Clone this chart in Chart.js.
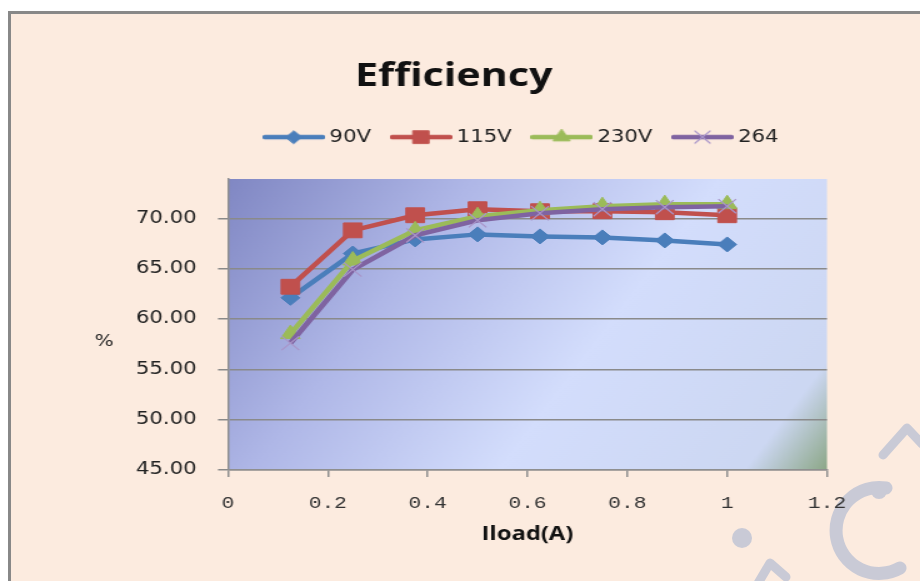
<!DOCTYPE html>
<html>
<head>
<meta charset="utf-8">
<title>Efficiency</title>
<script src="https://cdn.jsdelivr.net/npm/chart.js@4/dist/chart.umd.min.js"></script>
<style>
html,body{margin:0;padding:0;background:#fff;overflow:hidden}
#wrap{position:relative;width:920px;height:581px;overflow:hidden}
#frame{position:absolute;left:8px;top:11px;width:940px;height:600px;background:#fcebdf;border-left:3px solid #888;border-top:3px solid #888}
#mark{position:absolute;left:0;top:0}
/* 원본 그림이 가로로 약 1.25배 늘어나 있어서 캔버스도 같이 늘린다 */
#c{position:absolute;left:0;top:0;transform:scaleX(1.25);transform-origin:0 0}
</style>
</head>
<body>
<div id="wrap">
  <div id="frame"></div>
  <svg id="mark" width="920" height="581">
    <g fill="none" stroke="#c9cad6" stroke-linecap="round" stroke-linejoin="round">
      <polyline points="883,455 907,428 922,444" stroke-width="9"/>
      <path d="M 886 488 A 43 43 0 1 0 900 568" stroke-width="13"/>
      <polyline points="757,585 770,563 786,577" stroke-width="9"/>
    </g>
    <circle cx="879" cy="491" r="8" fill="#c9cad6"/>
    <circle cx="742" cy="538" r="10" fill="#c9cad6"/>
  </svg>
  <canvas id="c" width="736" height="581"></canvas>
</div>
<script>
/* ---------- 데이터 ---------- */
const LOAD    = [0.125, 0.25, 0.375, 0.5, 0.625, 0.75, 0.875, 1.0];
const V90     = [62.1, 66.5, 67.9, 68.4, 68.2, 68.1, 67.8, 67.4];
const V115    = [63.2, 68.8, 70.3, 70.9, 70.7, 70.7, 70.6, 70.3];
const V230    = [58.5, 65.8, 68.8, 70.2, 70.8, 71.2, 71.4, 71.4];
const V264    = [57.6, 64.9, 68.3, 69.8, 70.5, 70.9, 71.1, 71.2];
const SERIES  = ['90V', '115V', '230V', '264'];
const X_TICKS = [0, 0.2, 0.4, 0.6, 0.8, 1, 1.2];
const Y_TICKS = [45, 50, 55, 60, 65, 70];

const pts = arr => LOAD.map((x, i) => ({x, y: arr[i]}));

/* ---------- 시리즈 ---------- */
const datasets = [
  {label:SERIES[0], data:pts(V90),  borderColor:'#4a7ebb', pointBackgroundColor:'#4a7ebb', pointBorderColor:'#4a7ebb',
   pointStyle:'rectRot', pointRadius:7.5, pointBorderWidth:1},
  {label:SERIES[1], data:pts(V115), borderColor:'#c0504d', pointBackgroundColor:'#c0504d', pointBorderColor:'#c0504d',
   pointStyle:'rect', pointRadius:10.5, pointBorderWidth:1},
  {label:SERIES[2], data:pts(V230), borderColor:'#9bbb59', pointBackgroundColor:'#9bbb59', pointBorderColor:'#9bbb59',
   pointStyle:'triangle', pointRadius:9, pointBorderWidth:1},
  {label:SERIES[3], data:pts(V264), borderColor:'#7f63a1', pointBackgroundColor:'#a995c9', pointBorderColor:'#a995c9',
   pointStyle:'crossRot', pointRadius:10, pointBorderWidth:1.2}
];
// 뒤쪽 시리즈가 위에 그려지도록
datasets.forEach((d, i) => {
  d.borderWidth = 4.5; d.tension = 0; d.fill = false; d.order = datasets.length - i;
  d.pointHoverRadius = d.pointRadius;
});

// 범례 아이콘: 선 + 마커
function legendIcon(ds){
  const c = document.createElement('canvas');
  c.width = 50; c.height = 24;
  const g = c.getContext('2d');
  g.strokeStyle = ds.borderColor; g.lineWidth = ds.borderWidth; g.lineCap = 'round';
  g.beginPath(); g.moveTo(2, 12); g.lineTo(48, 12); g.stroke();
  g.fillStyle = ds.pointBackgroundColor; g.strokeStyle = ds.pointBorderColor; g.lineWidth = ds.pointBorderWidth;
  Chart.helpers.drawPoint(g, {pointStyle:ds.pointStyle, radius:ds.pointRadius*0.85, rotation:0, borderWidth:ds.pointBorderWidth}, 25, 12);
  return c;
}

/* ---------- 플러그인 ---------- */
const plotBg = {
  id:'plotBg',
  beforeDraw(chart){
    const {ctx, chartArea:a} = chart;
    const g = ctx.createLinearGradient(a.left, a.top, a.right, a.bottom);
    g.addColorStop(0,    '#8087c3');
    g.addColorStop(0.3,  '#afb7e7');
    g.addColorStop(0.6,  '#d3ddfc');
    g.addColorStop(0.9,  '#ccd7f2');
    g.addColorStop(1,    '#8ca787');
    ctx.save(); ctx.fillStyle = g; ctx.fillRect(a.left, a.top, a.width, a.height); ctx.restore();
  },
  afterDraw(chart){
    const {ctx, chartArea:a} = chart;
    ctx.save();
    ctx.font = '16px "DejaVu Sans"'; ctx.fillStyle = '#222';
    ctx.textAlign = 'center'; ctx.textBaseline = 'middle';
    ctx.fillText('%', a.left - 99, a.top + a.height*0.56);
    ctx.restore();
  }
};

const LEGEND_GAP = 23.4;
const place = {
  id:'place',
  beforeLayout(chart){
    const lg = chart.legend;
    if(lg && !lg._gap){
      const fit = lg.fit;
      lg.fit = function(){ fit.call(this); this.height += LEGEND_GAP; };
      lg._gap = true;
    }
  },
  afterLayout(chart){
    const a = chart.chartArea, lg = chart.legend, t = chart.titleBlock;
    const d = (a.left + a.right)/2 - 3 - (lg.left + lg.right)/2;
    lg.left += d; lg.right += d;
    const dt = (chart.width/2 - 5) - (t.left + t.right)/2;
    t.left += dt; t.right += dt;
  }
};

/* ---------- 차트 ---------- */
new Chart(document.getElementById('c'), {
  type:'line',
  data:{datasets},
  plugins:[plotBg, place],
  options:{
    responsive:false, animation:false, devicePixelRatio:1,
    layout:{padding:{left:0, right:74.4, top:0, bottom:0}},
    plugins:{
      title:{display:true, text:'Efficiency', color:'#111',
        font:{family:'"Open Sans"', size:33, weight:'bold'}, padding:{top:57, bottom:12}},
      legend:{display:true, position:'top',
        labels:{usePointStyle:true, pointStyleWidth:40, padding:20, color:'#222',
          font:{family:'"DejaVu Sans"', size:17},
          generateLabels(chart){
            return chart.data.datasets.map((ds, i) => ({
              text:ds.label, pointStyle:legendIcon(ds), fillStyle:ds.borderColor,
              strokeStyle:ds.borderColor, lineWidth:0, hidden:false, datasetIndex:i, fontColor:'#222'
            }));
          }}},
      tooltip:{enabled:false}
    },
    scales:{
      x:{type:'linear', min:0, max:1.2,
        afterBuildTicks:s=>{ s.ticks = X_TICKS.map(v=>({value:v})); },
        afterFit:s=>{ s.height = 111; },
        ticks:{font:{family:'"Liberation Mono"', size:17}, color:'#333', padding:16,
          maxRotation:0, autoSkip:false, callback:v=>String(v)},
        grid:{drawOnChartArea:false, color:'#8f8f8f', lineWidth:1.5, tickLength:7},
        border:{color:'#8f8f8f', width:1.5},
        title:{display:true, text:'Iload(A)', color:'#111',
          font:{family:'"Open Sans"', size:19, weight:'bold'}, padding:{top:0, bottom:35}}
      },
      y:{min:45, max:73.9,
        afterBuildTicks:s=>{ s.ticks = Y_TICKS.map(v=>({value:v})); },
        afterFit:s=>{ s.width = 182.4; },
        ticks:{font:{family:'"DejaVu Sans"', size:17}, color:'#222', padding:17,
          callback:v=>Number(v).toFixed(2)},
        grid:{color:'#8a8a8a', lineWidth:1.5, tickLength:8},
        border:{color:'#8f8f8f', width:1.5}
      }
    }
  }
});
</script>
</body>
</html>
